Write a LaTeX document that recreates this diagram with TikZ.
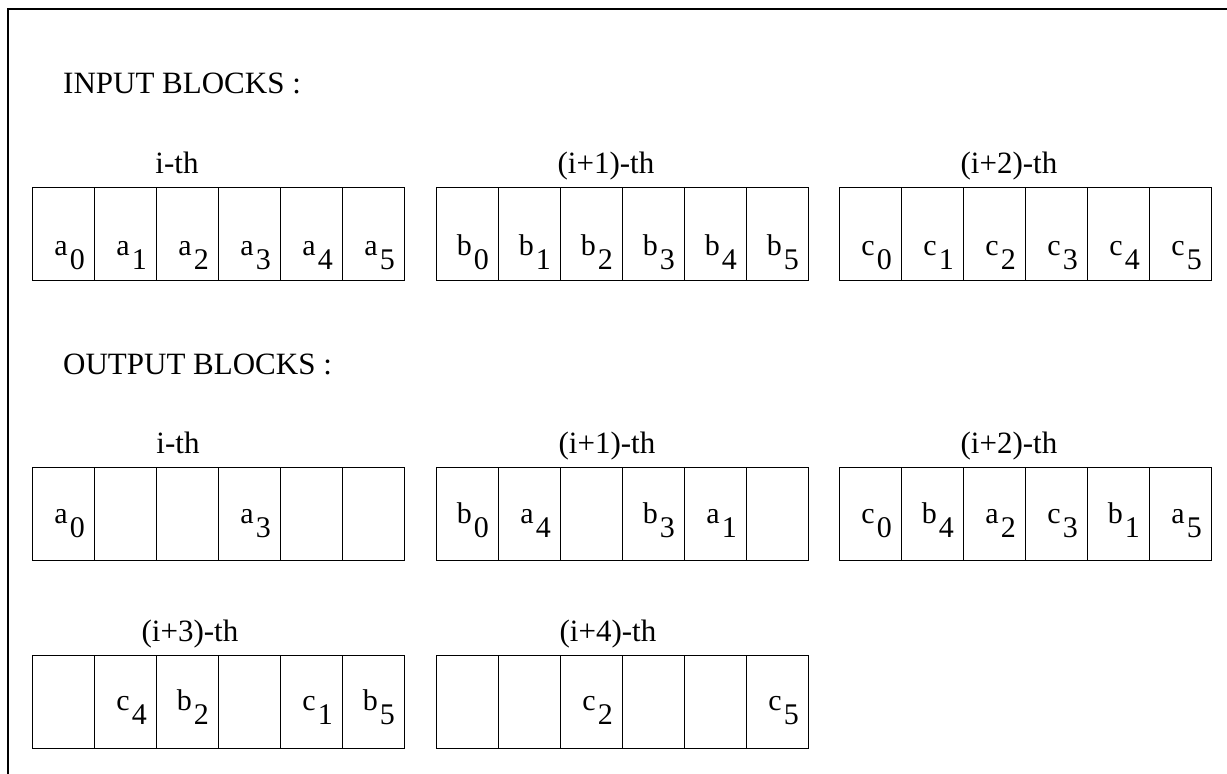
\documentclass[tikz,border=0pt]{standalone}
\usepackage{fontspec}
\setmainfont{Liberation Serif}
\def\nonemark{n}
\tikzset{
  cellbox/.style={draw, line width=1.2pt, rectangle, minimum width=62pt, minimum height=93pt, inner sep=0pt, anchor=north west},
  celltext/.style={inner sep=0pt, anchor=base east, font=\fontsize{30}{33}\selectfont},
  heading/.style={inner sep=0pt, anchor=base west, font=\fontsize{31}{36}\selectfont},
  blocklabel/.style={inner sep=0pt, anchor=base, font=\fontsize{31}{36}\selectfont},
  frame/.style={line width=2pt}
}
% #1 name, #2 left, #3 top, #4 letter baseline offset, #5 list
\newcommand\blockrow[5]{%
  \foreach \l/\d [count=\j from 0] in {#5}{%
    \node[cellbox] (#1-\j) at (#2+62*\j, #3) {};
    \edef\tmp{\l}%
    \ifx\tmp\nonemark\else
      \node[celltext] (#1-t\j) at (#2+62*\j+53, #3+#4) {\l\kern2pt\raisebox{-14pt}{\d}};
    \fi
  }%
}
\begin{document}
\begin{tikzpicture}[x=1pt, y=-1pt]
\useasboundingbox (0,0) rectangle (1227,774);
% frame
\coordinate (tl) at (8,9);
\coordinate (tr) at (1227,9);
\coordinate (bl) at (8,774);
\draw[frame] (tr) -- (tl) -- (bl);
% headings
\node[heading] (inhead) at (63,93) {INPUT BLOCKS :};
\node[heading] (outhead) at (63,374) {OUTPUT BLOCKS :};
% input row
\node[blocklabel] (inlabA) at (177,173) {i-th};
\node[blocklabel] (inlabB) at (606,173) {(i+1)-th};
\node[blocklabel] (inlabC) at (1009,173) {(i+2)-th};
\blockrow{inA}{32}{187}{68}{a/0,a/1,a/2,a/3,a/4,a/5}
\blockrow{inB}{436}{187}{68}{b/0,b/1,b/2,b/3,b/4,b/5}
\blockrow{inC}{839}{187}{68}{c/0,c/1,c/2,c/3,c/4,c/5}
% output row 1
\node[blocklabel] (outlabA) at (178,453) {i-th};
\node[blocklabel] (outlabB) at (607,453) {(i+1)-th};
\node[blocklabel] (outlabC) at (1009,453) {(i+2)-th};
\blockrow{outA}{32}{467}{56}{a/0,n/n,n/n,a/3,n/n,n/n}
\blockrow{outB}{436}{467}{56}{b/0,a/4,n/n,b/3,a/1,n/n}
\blockrow{outC}{839}{467}{56}{c/0,b/4,a/2,c/3,b/1,a/5}
% output row 2
\node[blocklabel] (outlabD) at (190,641) {(i+3)-th};
\node[blocklabel] (outlabE) at (608,641) {(i+4)-th};
\blockrow{outD}{32}{655}{55}{n/n,c/4,b/2,n/n,c/1,b/5}
\blockrow{outE}{436}{655}{55}{n/n,n/n,c/2,n/n,n/n,c/5}
\end{tikzpicture}
\end{document}
